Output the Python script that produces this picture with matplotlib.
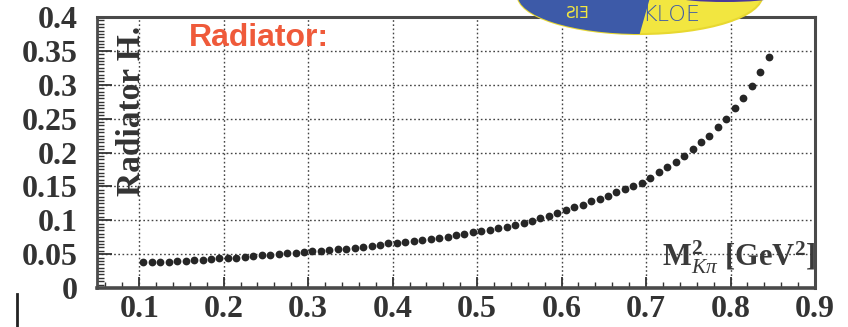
import matplotlib
matplotlib.use("Agg")
import matplotlib.pyplot as plt
from matplotlib.patches import Ellipse, Polygon
from matplotlib.ticker import MultipleLocator, FixedLocator, FixedFormatter
from matplotlib.font_manager import FontProperties

plt.rcParams["mathtext.fontset"] = "custom"
plt.rcParams["mathtext.rm"] = "Liberation Serif:bold"
plt.rcParams["mathtext.bf"] = "Liberation Serif:bold"
plt.rcParams["mathtext.it"] = "Liberation Serif:italic"

# invariant-mass squared bin centres [GeV^2]
m2_kpi = [0.105, 0.115, 0.125, 0.135, 0.145, 0.155, 0.165, 0.175, 0.185, 0.195,
          0.205, 0.215, 0.225, 0.235, 0.245, 0.255, 0.265, 0.275, 0.285, 0.295,
          0.305, 0.315, 0.325, 0.335, 0.345, 0.355, 0.365, 0.375, 0.385, 0.395,
          0.405, 0.415, 0.425, 0.435, 0.445, 0.455, 0.465, 0.475, 0.485, 0.495,
          0.505, 0.515, 0.525, 0.535, 0.545, 0.555, 0.565, 0.575, 0.585, 0.595,
          0.605, 0.615, 0.625, 0.635, 0.645, 0.655, 0.665, 0.675, 0.685, 0.695,
          0.705, 0.715, 0.725, 0.735, 0.745, 0.755, 0.765, 0.775, 0.785, 0.795,
          0.805, 0.815, 0.825, 0.835, 0.845]

# radiator function H
radiator_h = [0.038, 0.0385, 0.039, 0.039, 0.040, 0.040, 0.041, 0.042, 0.043, 0.044,
              0.045, 0.045, 0.046, 0.047, 0.048, 0.049, 0.050, 0.051, 0.052, 0.053,
              0.054, 0.055, 0.056, 0.057, 0.058, 0.059, 0.061, 0.062, 0.064, 0.066,
              0.067, 0.068, 0.070, 0.071, 0.073, 0.074, 0.076, 0.078, 0.080, 0.082,
              0.084, 0.086, 0.088, 0.090, 0.093, 0.096, 0.099, 0.103, 0.107, 0.111,
              0.115, 0.119, 0.123, 0.128, 0.132, 0.136, 0.141, 0.146, 0.150, 0.155,
              0.162, 0.171, 0.179, 0.186, 0.195, 0.205, 0.216, 0.225, 0.237, 0.250,
              0.266, 0.281, 0.298, 0.319, 0.341]

x_ticks = [0.1, 0.2, 0.3, 0.4, 0.5, 0.6, 0.7, 0.8, 0.9]
x_tick_labels = ["0.1", "0.2", "0.3", "0.4", "0.5", "0.6", "0.7", "0.8", "0.9"]
y_ticks = [0.0, 0.05, 0.1, 0.15, 0.2, 0.25, 0.3, 0.35, 0.4]
y_tick_labels = ["0", "0.05", "0.1", "0.15", "0.2", "0.25", "0.3", "0.35", "0.4"]

W, H = 848, 327
fig = plt.figure(figsize=(W / 100, H / 100), dpi=100)
fig.patch.set_facecolor("white")

ax = fig.add_axes([97 / W, 1 - 288 / H, (815 - 97) / W, (288 - 17) / H])
ax.set_xlim(0.05, 0.9)
ax.set_ylim(0.0, 0.4)

ax.plot(m2_kpi, radiator_h, linestyle="none", marker="o", markersize=5.6,
        color="#262626", markeredgewidth=0, zorder=5)

tick_font = FontProperties(family="Liberation Serif", weight="bold", size=23)
ax.xaxis.set_major_locator(FixedLocator(x_ticks))
ax.xaxis.set_major_formatter(FixedFormatter(x_tick_labels))
ax.xaxis.set_minor_locator(MultipleLocator(0.02))
ax.yaxis.set_major_locator(FixedLocator(y_ticks))
ax.yaxis.set_major_formatter(FixedFormatter(y_tick_labels))
ax.yaxis.set_minor_locator(MultipleLocator(0.005))
for lab in ax.get_xticklabels() + ax.get_yticklabels():
    lab.set_fontproperties(tick_font)
    lab.set_color("#333333")

ax.tick_params(axis="x", which="major", direction="in", length=8, width=1.3,
               color="#333333", pad=5)
ax.tick_params(axis="x", which="minor", direction="in", length=4, width=1.0,
               color="#333333")
ax.tick_params(axis="y", which="major", direction="in", length=11, width=1.3,
               color="#333333", pad=14)
ax.tick_params(axis="y", which="minor", direction="in", length=5, width=1.0,
               color="#333333")

ax.grid(True, which="major", linestyle=(0, (1.2, 1.8)), color="#444444",
        linewidth=1.0)
ax.set_axisbelow(True)

for side, lw in (("left", 2.0), ("bottom", 2.6), ("top", 2.2), ("right", 2.2)):
    ax.spines[side].set_linewidth(lw)
    ax.spines[side].set_color("#4a4a4a")

# axis titles drawn inside the frame
ax.text(0.048, 0.968, "Radiator H.", transform=ax.transAxes, rotation=90,
        ha="center", va="top", family="Liberation Serif", weight="bold",
        size=24, color="#333333")
ax.text(1.0, 0.08, r"$\mathbf{M}^{\mathbf{2}}_{K\pi}$ [GeV$^{\mathbf{2}}$]",
        transform=ax.transAxes, ha="right", va="baseline",
        family="Liberation Serif", weight="bold", size=22, color="#3a3a3a")

# overlay in pixel coordinates for the heading and logo
ov = fig.add_axes([0, 0, 1, 1], zorder=10)
ov.set_xlim(0, W)
ov.set_ylim(H, 0)
ov.axis("off")
ov.patch.set_alpha(0)

ov.text(189, 38, "Radiator:", ha="left", va="center",
        family="Liberation Sans", weight="bold", size=23, color="#ef5a3a")

logo = Ellipse((640, -5), 245, 78, facecolor="#f2e640", edgecolor="#e8d830",
               linewidth=1.5)
ov.add_patch(logo)
blue = Polygon([[500, -20], [655, -20], [638, 40], [500, 40]],
               closed=True, facecolor="#3d5aa8", edgecolor="none")
ov.add_patch(blue)
blue.set_clip_path(logo)
ov.add_patch(Ellipse((725, -2), 90, 8, facecolor="#4a3a9a", edgecolor="none"))
ov.text(642, 15, "KLOE", ha="left", va="center", family="DejaVu Sans",
        size=16, color="#3d5aa8", weight="light")
ov.text(565, 14, "ƧIƎ", ha="left", va="center", family="DejaVu Sans",
        size=11, color="#f2e640")

# stray margin mark below the y axis
ov.plot([17, 17], [294, 326], color="#222222", linewidth=2)

fig.savefig("out.png", dpi=100, facecolor="white")
